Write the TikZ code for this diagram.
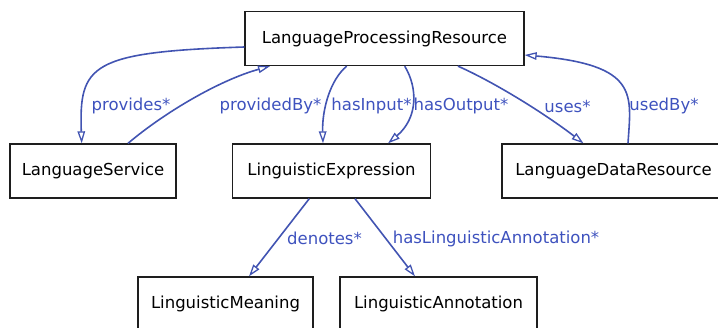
\documentclass[tikz,border=0pt]{standalone}
\usepackage{fontspec}
\setmainfont{DejaVu Sans}
\usetikzlibrary{arrows.meta}
\definecolor{edgeblue}{RGB}{66,84,178}
\definecolor{labelblue}{RGB}{62,82,190}
\definecolor{boxline}{RGB}{30,30,30}
\tikzset{
  cls/.style={draw=boxline, line width=1.3pt, fill=white, inner sep=0pt, minimum height=54pt,
    font=\fontsize{16.5}{18}\selectfont},
  rel/.style={draw=edgeblue, line width=1.6pt, -{Triangle[open, length=12pt, width=7.5pt, line width=1.3pt]}},
  lbl/.style={text=labelblue, inner sep=0pt, font=\fontsize{16.5}{18}\selectfont},
}
\begin{document}
\begin{tikzpicture}[x=1pt, y=-1pt]
\useasboundingbox (0,0) rectangle (718,327);
\begin{scope}
\clip (0,0) rectangle (718,327);
\node[cls, minimum width=279pt] (lpr) at (384.5,38.5) {LanguageProcessingResource};
\node[cls, minimum width=166pt] (ls) at (93,171) {LanguageService};
\node[cls, minimum width=198pt] (le) at (331.5,171) {LinguisticExpression};
\node[cls, minimum width=223pt] (ldr) at (613.5,171) {LanguageDataResource};
\node[cls, minimum width=175pt] (lm) at (225.5,304) {LinguisticMeaning};
\node[cls, minimum width=197pt] (la) at (438.5,304) {LinguisticAnnotation};

% connectors
\draw[rel] ([yshift=-8.5pt]lpr.west) .. controls (90,52) and (79,65) .. ([xshift=-11.3pt]ls.north);
\draw[rel] ([xshift=35pt]ls.north) .. controls (165,112) and (220,80) .. ([xshift=-114.5pt]lpr.south);
\draw[rel] ([xshift=-37.8pt]lpr.south) .. controls (330,80) and (322,110) .. ([xshift=-8.5pt]le.north);
\draw[rel] ([xshift=20.2pt]lpr.south) .. controls (418,88) and (418,118) .. ([xshift=56.5pt]le.north);
\draw[rel] ([xshift=73.5pt]lpr.south) .. controls (498,84) and (548,116) .. ([xshift=-30pt]ldr.north);
\draw[rel] ([xshift=14.5pt]ldr.north) .. controls (631,95) and (640,65) .. ([yshift=-16.5pt]lpr.east);
\draw[rel] ([xshift=-22.2pt]le.south) -- ([xshift=23.5pt]lm.north);
\draw[rel] ([xshift=23.5pt]le.south) -- ([xshift=-23.5pt]la.north);

% labels
\node[lbl] (l1) at (131,106) {provides*};
\node[lbl] (l2) at (270.5,106) {providedBy*};
\node[lbl] (l3) at (371.5,106) {hasInput*};
\node[lbl] (l4) at (461,106) {hasOutput*};
\node[lbl] (l5) at (567.5,106) {uses*};
\node[lbl] (l6) at (664,106) {usedBy*};
\node[lbl] (l7) at (324.5,238.5) {denotes*};
\node[lbl] (l8) at (496,238.5) {hasLinguisticAnnotation*};
\end{scope}
\end{tikzpicture}
\end{document}
